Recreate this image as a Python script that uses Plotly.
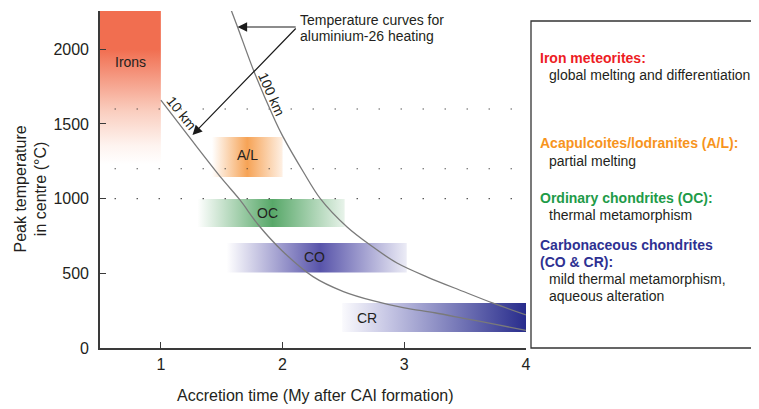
import plotly.graph_objects as go

# ---------------- data ----------------
time_ticks = [1, 2, 3, 4]
temp_ticks = [0, 500, 1000, 1500, 2000]

band_names = ["Irons", "A/L", "OC", "CO", "CR"]
band_start = [0.5, 1.42, 1.30, 1.54, 2.49]      # accretion time (My)
band_end = [1.0, 2.0, 2.51, 3.02, 4.0]
band_tmin = [1230, 1145, 810, 505, 107]           # peak temperature (°C)
band_tmax = [2256, 1412, 997, 703, 301]
band_label_t = [0.75, 1.71, 1.88, 2.26, 2.69]
band_label_T = [1914, 1292, 904, 609, 201]

curve_10km_t = [1.0, 1.25, 1.5, 1.65, 1.8, 2.0, 2.25, 2.5, 2.75, 3.0, 3.25, 3.5, 3.75, 4.0]
curve_10km_T = [1660, 1395, 1135, 991, 825, 648, 478, 378, 315, 268, 236, 197, 158, 118]

curve_100km_t = [1.56, 1.63, 1.77, 1.94, 2.0, 2.17, 2.31, 2.53, 2.72, 2.94, 3.19, 3.48, 3.73, 4.0]
curve_100km_T = [2300, 2149, 1841, 1520, 1420, 1180, 1000, 810, 689, 569, 475, 380, 300, 221]

guide_temps = [1000, 1200, 1600]

legend_heads = ["Iron meteorites:", "Acapulcoites/lodranites (A/L):", "Ordinary chondrites (OC):",
                "Carbonaceous chondrites", "(CO & CR):"]
legend_descs = ["global melting and differentiation", "partial melting", "thermal metamorphism",
                "mild thermal metamorphism,", "aqueous alteration"]

# ---------------- style ----------------
FONT = "Liberation Sans, Arial, Helvetica, sans-serif"
TXT = "#231F20"
AX = "#3a3a3a"

OFF = 8                       # page body margin
SW, SH = 759, 409             # screen size
W, H = SW - OFF, SH - OFF
X0S, X1S, Y0S, Y1S = 100, 526, 11, 348   # plot area in screen px
L, R, T, B = X0S - OFF, SW - X1S, Y0S - OFF, SH - Y1S
PW, PH = X1S - X0S, Y1S - Y0S


def px(xs):
    return (xs - X0S) / PW


def py(ys):
    return (Y1S - ys) / PH


band_scales = [
    [[0, "rgb(255,255,255)"], [0.12, "rgb(254,244,240)"], [0.35, "rgb(250,205,190)"],
     [0.75, "rgb(241,110,80)"], [1, "rgb(241,110,80)"]],
    [[0, "rgb(255,255,255)"], [0.5, "rgb(246,163,86)"], [1, "rgb(254,240,228)"]],
    [[0, "rgb(255,255,255)"], [0.51, "rgb(88,168,105)"], [1, "rgb(232,243,234)"]],
    [[0, "rgb(255,255,255)"], [0.52, "rgb(88,84,170)"], [1, "rgb(236,236,246)"]],
    [[0, "rgb(250,250,253)"], [0.25, "rgb(198,198,228)"], [1, "rgb(40,44,140)"]],
]
band_dir = ["vertical", "horizontal", "horizontal", "horizontal", "horizontal"]

fig = go.Figure()

for i, name in enumerate(band_names):
    x0, x1 = band_start[i], band_end[i]
    y0, y1 = band_tmin[i], band_tmax[i]
    if band_dir[i] == "vertical":
        st, sp = y0, y1
    else:
        st, sp = x0, x1
    fig.add_trace(go.Scatter(
        x=[x0, x1, x1, x0, x0], y=[y0, y0, y1, y1, y0],
        mode="lines", line=dict(width=0), fill="toself",
        fillgradient=dict(type=band_dir[i], colorscale=band_scales[i], start=st, stop=sp),
        hoverinfo="skip", showlegend=False))

for gt in guide_temps:
    fig.add_trace(go.Scatter(
        x=[0.62, 4.0], y=[gt, gt], mode="lines",
        line=dict(color="#333", width=1.1, dash="1.2px,20.8px"),
        hoverinfo="skip", showlegend=False))

for tx, ty in [(curve_10km_t, curve_10km_T), (curve_100km_t, curve_100km_T)]:
    fig.add_trace(go.Scatter(
        x=tx, y=ty, mode="lines", line=dict(color="#7a7a7a", width=1.3, shape="spline", smoothing=0.9),
        hoverinfo="skip", showlegend=False))

ann = []
for i, name in enumerate(band_names):
    ann.append(dict(x=band_label_t[i], y=band_label_T[i], xref="x", yref="y", text=name,
                    xanchor="center", yanchor="middle",
                    showarrow=False, font=dict(size=14, color=TXT, family=FONT)))

ann.append(dict(x=1.168, y=1570, xref="x", yref="y", text="10 km", textangle=51,
                xanchor="center", yanchor="middle",
                showarrow=False, font=dict(size=14, color=TXT, family=FONT)))
ann.append(dict(x=1.910, y=1702, xref="x", yref="y", text="100 km", textangle=66,
                xanchor="center", yanchor="middle",
                showarrow=False, font=dict(size=14, color=TXT, family=FONT)))

# arrows from the callout text to the two curves
for tip in [(1.63, 2149), (1.26, 1426)]:
    ann.append(dict(x=tip[0], y=tip[1], xref="x", yref="y", ax=2.12, ay=2149, axref="x", ayref="y",
                    text="", showarrow=True, arrowhead=2, arrowsize=1.6, arrowwidth=1.2,
                    arrowcolor="#1a1a1a"))
ann.append(dict(x=px(298), y=py(19.5), xref="paper", yref="paper", xanchor="left", yanchor="middle",
                text="Temperature curves for", showarrow=False, font=dict(size=14, color=TXT, family=FONT)))
ann.append(dict(x=px(298), y=py(35.5), xref="paper", yref="paper", xanchor="left", yanchor="middle",
                text="aluminium-26 heating", showarrow=False, font=dict(size=14, color=TXT, family=FONT)))

# axis titles
ann.append(dict(x=px(315.5), y=py(395), xref="paper", yref="paper", xanchor="center", yanchor="middle",
                text="Accretion time (My after CAI formation)",
                showarrow=False, font=dict(size=16, color=TXT, family=FONT)))
ann.append(dict(x=px(30.5), y=py(189), xref="paper", yref="paper", xanchor="center", yanchor="middle",
                text="Peak temperature<br>in centre (°C)",
                textangle=-90, showarrow=False, font=dict(size=16, color=TXT, family=FONT)))

# legend box text
head_cols = ["#ED1C24", "#F7941D", "#1E9B48", "#2E3192", "#2E3192"]
head_y = [58, 143, 198, 245, 262]
for i, t in enumerate(legend_heads):
    ann.append(dict(x=px(538), y=py(head_y[i]), xref="paper", yref="paper", xanchor="left", yanchor="middle",
                    text="<b>" + t + "</b>", showarrow=False,
                    font=dict(size=14, color=head_cols[i], family=FONT)))
desc_y = [75, 161, 215, 279, 296]
for i, t in enumerate(legend_descs):
    ann.append(dict(x=px(547), y=py(desc_y[i]), xref="paper", yref="paper", xanchor="left", yanchor="middle",
                    text=t, showarrow=False, font=dict(size=14, color=TXT, family=FONT)))

shapes = [dict(type="rect", xref="paper", yref="paper", x0=px(531), x1=px(755), y0=py(348), y1=py(21),
               line=dict(color="#333", width=1.3), fillcolor="rgba(0,0,0,0)")]

fig.update_layout(
    width=W, height=H, margin=dict(l=L, r=R, t=T, b=B, autoexpand=False),
    paper_bgcolor="white", plot_bgcolor="white",
    annotations=ann, shapes=shapes,
    xaxis=dict(range=[0.5, 4.0], tickvals=time_ticks, ticks="inside", ticklen=6, tickwidth=1.3,
               tickcolor=AX, showline=True, linecolor=AX, linewidth=1.6, showgrid=False, zeroline=False,
               tickfont=dict(size=16, color=TXT, family=FONT), ticklabelstandoff=1),
    yaxis=dict(range=[0, 2256], tickvals=temp_ticks, ticks="inside", ticklen=6, tickwidth=1.3,
               tickcolor=AX, showline=True, linecolor=AX, linewidth=1.6, showgrid=False, zeroline=False,
               tickfont=dict(size=16, color=TXT, family=FONT), ticklabelstandoff=6),
    showlegend=False,
)

fig.write_html("out.html")
